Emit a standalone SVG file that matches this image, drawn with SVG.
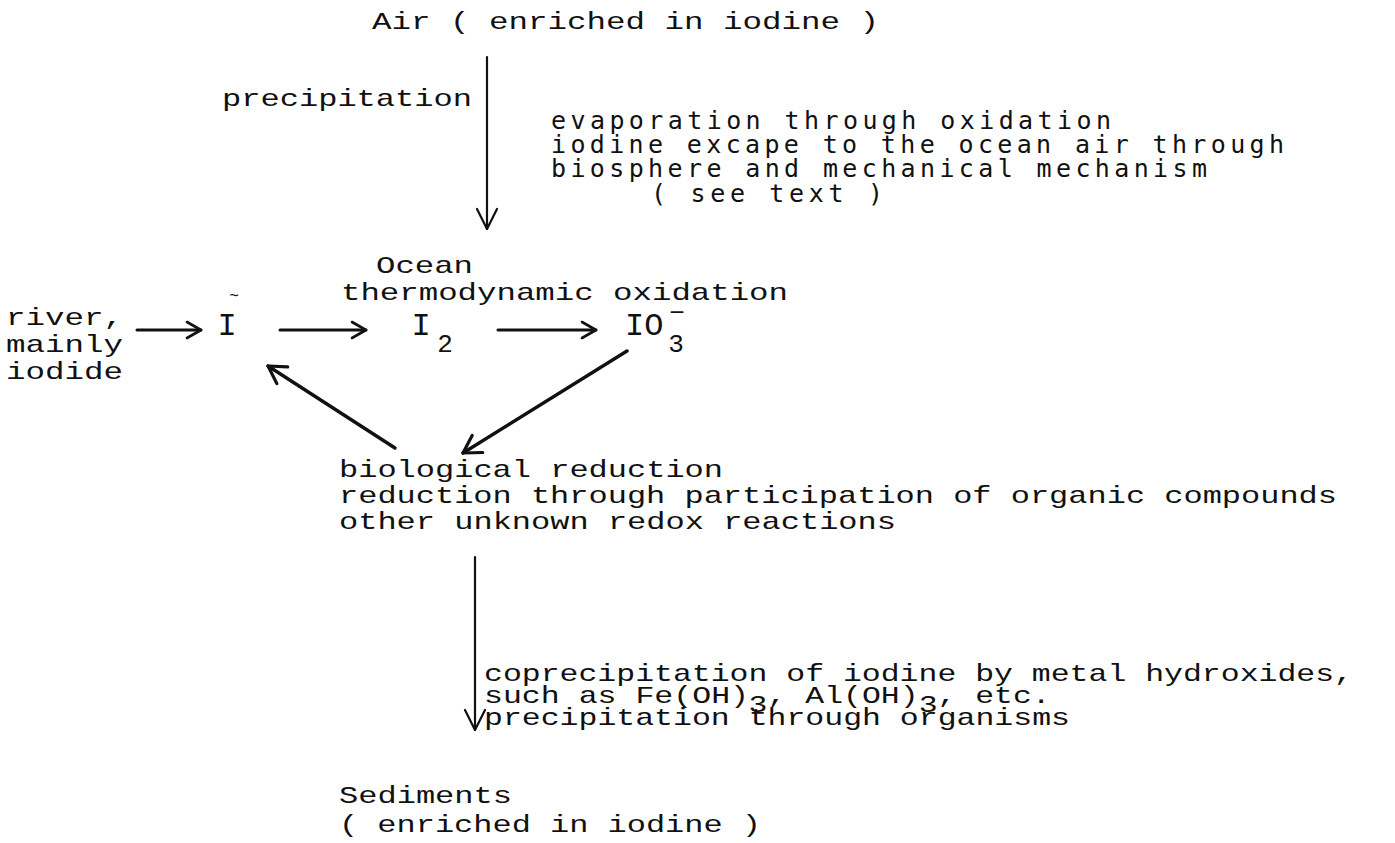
<svg xmlns="http://www.w3.org/2000/svg" width="1395" height="843" viewBox="0 0 1395 843">
  <style>
    text { font-family: "Liberation Mono", "Courier New", monospace; font-size: 24px; fill: #111; }
    .evap { font-family: "DejaVu Sans Mono", "Liberation Mono", monospace; font-size: 25px; }
    .sp { font-size: 32px; }
    .sub { font-size: 26px; }
    .mark { font-size: 16px; }
    .conn line { stroke: #111; fill: none; stroke-linecap: round; }
    .h { stroke-width: 3; }
    .v { stroke-width: 2.2; }
    .d { stroke-width: 3.4; }
  </style>
  <defs>
    <marker id="headH" viewBox="-18 -12 22 24" refX="0" refY="0" markerWidth="22" markerHeight="24" markerUnits="userSpaceOnUse" orient="auto" overflow="visible">
      <path d="M-14,-8 L0,0 L-14,8" fill="none" stroke="#111" stroke-width="2.6" stroke-linecap="round" stroke-linejoin="round"/>
    </marker>
    <marker id="headV" viewBox="-24 -14 28 28" refX="0" refY="0" markerWidth="28" markerHeight="28" markerUnits="userSpaceOnUse" orient="auto" overflow="visible">
      <path d="M-20,-10 L0,0 L-20,10" fill="none" stroke="#111" stroke-width="2.2" stroke-linecap="round" stroke-linejoin="round"/>
    </marker>
    <marker id="headD" viewBox="-24 -14 28 28" refX="0" refY="0" markerWidth="28" markerHeight="28" markerUnits="userSpaceOnUse" orient="auto" overflow="visible">
      <path d="M-17,-10 L0,0 L-17,10" fill="none" stroke="#111" stroke-width="3.2" stroke-linecap="round" stroke-linejoin="round"/>
    </marker>
  </defs>

  <rect width="1395" height="843" fill="#fff"/>

  <!-- typewritten labels: each line is stretched to the typewriter pitch -->
  <g id="air">
    <text x="372" y="29" textLength="507" lengthAdjust="spacingAndGlyphs">Air ( enriched in iodine )</text>
  </g>

  <g id="precipitation-label">
    <text x="222" y="106" textLength="250" lengthAdjust="spacingAndGlyphs">precipitation</text>
  </g>

  <g id="evaporation-label">
    <text x="551" y="129" class="evap" textLength="560" lengthAdjust="spacing">evaporation through oxidation</text>
    <text x="551" y="153" class="evap" textLength="733" lengthAdjust="spacing">iodine excape to the ocean air through</text>
    <text x="551" y="177" class="evap" textLength="656" lengthAdjust="spacing">biosphere and mechanical mechanism</text>
    <text x="651" y="202" class="evap" textLength="232" lengthAdjust="spacing">( see text )</text>
  </g>

  <g id="ocean">
    <text x="376" y="273" textLength="97" lengthAdjust="spacingAndGlyphs">Ocean</text>
    <text x="341" y="300" textLength="447" lengthAdjust="spacingAndGlyphs">thermodynamic oxidation</text>
  </g>

  <g id="river">
    <text x="6" y="325" textLength="117" lengthAdjust="spacingAndGlyphs">river,</text>
    <text x="6" y="352" textLength="117" lengthAdjust="spacingAndGlyphs">mainly</text>
    <text x="6" y="379" textLength="117" lengthAdjust="spacingAndGlyphs">iodide</text>
  </g>

  <g id="iodide">
    <text x="227" y="335" class="sp" text-anchor="middle">I</text>
    <text x="234" y="301" class="mark" text-anchor="middle">~</text>
  </g>

  <g id="iodine">
    <text x="421" y="335" class="sp" text-anchor="middle">I</text>
    <text x="445" y="352" class="sub" text-anchor="middle">2</text>
  </g>

  <g id="iodate">
    <text x="625" y="335" class="sp">IO</text>
    <text x="676" y="352" class="sub" text-anchor="middle">3</text>
    <text x="677" y="321" class="sub" text-anchor="middle">−</text>
  </g>

  <g id="reduction">
    <text x="339" y="477" textLength="384" lengthAdjust="spacingAndGlyphs">biological reduction</text>
    <text x="339" y="503" textLength="998" lengthAdjust="spacingAndGlyphs">reduction through participation of organic compounds</text>
    <text x="339" y="529" textLength="557" lengthAdjust="spacingAndGlyphs">other unknown redox reactions</text>
  </g>

  <g id="coprecipitation-label">
    <text x="484" y="681" textLength="869" lengthAdjust="spacingAndGlyphs">coprecipitation of iodine by metal hydroxides,</text>
    <text x="484" y="703" textLength="265" lengthAdjust="spacingAndGlyphs">such as Fe(OH)</text>
    <text x="748.6" y="712" textLength="18.9" lengthAdjust="spacingAndGlyphs">3</text>
    <text x="767.5" y="703" textLength="151" lengthAdjust="spacingAndGlyphs">, Al(OH)</text>
    <text x="918.7" y="712" textLength="18.9" lengthAdjust="spacingAndGlyphs">3</text>
    <text x="937.6" y="703" textLength="113" lengthAdjust="spacingAndGlyphs">, etc.</text>
    <text x="484" y="725" textLength="586" lengthAdjust="spacingAndGlyphs">precipitation through organisms</text>
  </g>

  <g id="sediments">
    <text x="339" y="803" textLength="173" lengthAdjust="spacingAndGlyphs">Sediments</text>
    <text x="339" y="832" textLength="422" lengthAdjust="spacingAndGlyphs">( enriched in iodine )</text>
  </g>

  <!-- fluxes between reservoirs -->
  <g id="connectors" class="conn">
    <line class="v" x1="487" y1="57" x2="487" y2="229" marker-end="url(#headV)"/>
    <line class="h" x1="137" y1="330" x2="201" y2="330" marker-end="url(#headH)"/>
    <line class="h" x1="280" y1="330" x2="366" y2="330" marker-end="url(#headH)"/>
    <line class="h" x1="498" y1="330" x2="596" y2="330" marker-end="url(#headH)"/>
    <line class="d" x1="627" y1="351" x2="463" y2="453" marker-end="url(#headD)"/>
    <line class="d" x1="395" y1="448" x2="268" y2="366" marker-end="url(#headD)"/>
    <line class="v" x1="475" y1="557" x2="475" y2="730" marker-end="url(#headV)"/>
  </g>
</svg>
